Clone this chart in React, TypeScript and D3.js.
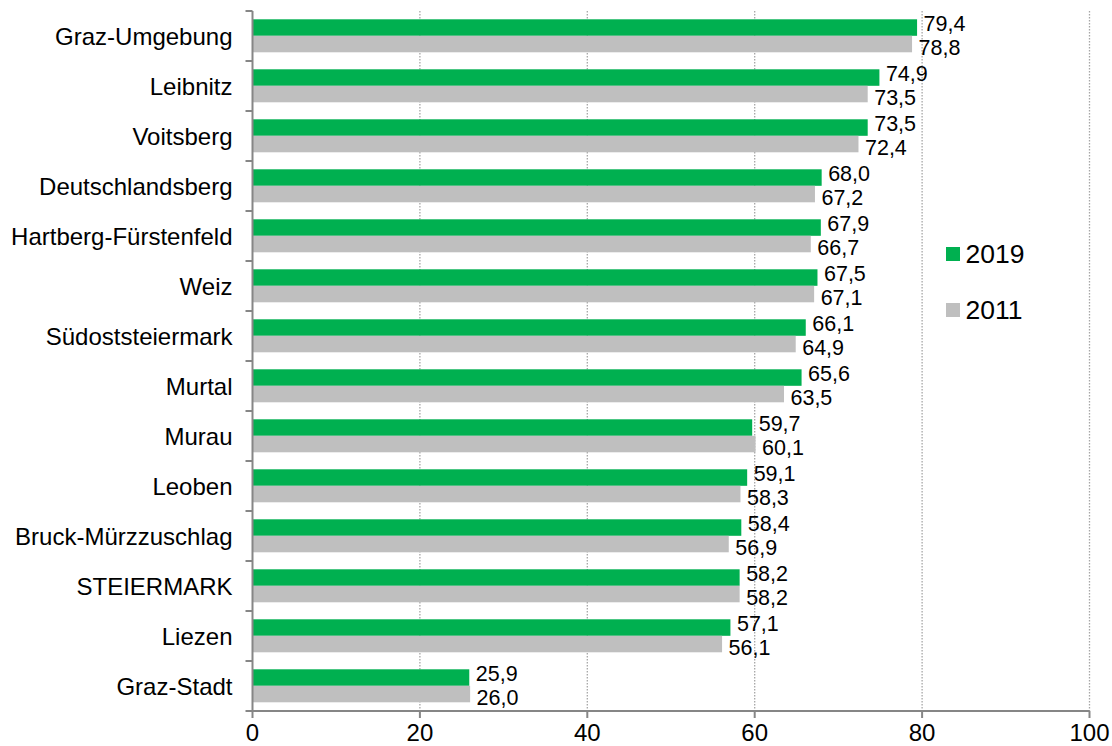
import React, { useEffect, useRef } from 'react';
import * as d3 from 'd3';

// Districts, top to bottom
const districts = [
  'Graz-Umgebung', 'Leibnitz', 'Voitsberg', 'Deutschlandsberg', 'Hartberg-Fürstenfeld',
  'Weiz', 'Südoststeiermark', 'Murtal', 'Murau', 'Leoben', 'Bruck-Mürzzuschlag',
  'STEIERMARK', 'Liezen', 'Graz-Stadt',
];
const values2019 = [79.4, 74.9, 73.5, 68.0, 67.9, 67.5, 66.1, 65.6, 59.7, 59.1, 58.4, 58.2, 57.1, 25.9];
const values2011 = [78.8, 73.5, 72.4, 67.2, 66.7, 67.1, 64.9, 63.5, 60.1, 58.3, 56.9, 58.2, 56.1, 26.0];
const seriesNames = ['2019', '2011'];
const seriesColors = ['#00B050', '#BFBFBF'];
const xTicks = [0, 20, 40, 60, 80, 100];

const App: React.FC = () => {
  const ref = useRef<SVGSVGElement>(null);

  useEffect(() => {
    const svg = d3.select(ref.current);
    svg.selectAll('*').remove();

    const width = 1112;
    const height = 746;
    const marginTop = 11;
    const marginBottom = 35;
    const marginLeft = 252.5;
    const marginRight = 22.5;
    const font = 'Liberation Sans, Arial, sans-serif';

    const x = d3.scaleLinear()
      .domain([0, 100])
      .range([marginLeft, width - marginRight]);

    const y = d3.scaleBand()
      .domain(districts)
      .range([marginTop, height - marginBottom]);

    // two bars inside each band, with empty space above and below
    const inner = d3.scaleBand()
      .domain(seriesNames)
      .range([8.3, y.bandwidth() - 8.7]);

    const color = d3.scaleOrdinal<string>().domain(seriesNames).range(seriesColors);

    const rows = districts.map((name, i) => ({ name, values: [values2019[i], values2011[i]] }));

    // dotted vertical grid
    svg.append('g')
      .selectAll('line')
      .data(xTicks.filter(d => d > 0))
      .join('line')
      .attr('x1', d => x(d))
      .attr('x2', d => x(d))
      .attr('y1', marginTop)
      .attr('y2', height - marginBottom)
      .attr('stroke', '#A6A6A6')
      .attr('stroke-width', 1.3)
      .attr('stroke-dasharray', '1.5,1.5');

    // bars
    const group = svg.append('g')
      .selectAll('g')
      .data(rows)
      .join('g')
      .attr('transform', d => `translate(0,${y(d.name)})`);

    group.selectAll('rect')
      .data(d => d.values.map((v, i) => ({ key: seriesNames[i], v })))
      .join('rect')
      .attr('x', x(0))
      .attr('y', d => inner(d.key)!)
      .attr('width', d => x(d.v) - x(0))
      .attr('height', inner.bandwidth())
      .attr('fill', d => color(d.key));

    // value labels (German decimal comma)
    group.selectAll('text')
      .data(d => d.values.map((v, i) => ({ key: seriesNames[i], v })))
      .join('text')
      .attr('x', d => x(d.v) + 6.5)
      .attr('y', (d, i) => inner(d.key)! + inner.bandwidth() / 2 + (i === 0 ? 3.7 : 11.3))
      .attr('font-family', font)
      .attr('font-size', 21.5)
      .attr('fill', '#000')
      .text(d => d.v.toFixed(1).replace('.', ','));

    // y axis
    const yAxis = svg.append('g');
    yAxis.append('line')
      .attr('x1', marginLeft).attr('x2', marginLeft)
      .attr('y1', marginTop).attr('y2', height - marginBottom)
      .attr('stroke', '#868686').attr('stroke-width', 2);
    yAxis.selectAll('line.tick')
      .data(d3.range(districts.length + 1))
      .join('line')
      .attr('class', 'tick')
      .attr('x1', marginLeft - 7).attr('x2', marginLeft)
      .attr('y1', i => marginTop + i * y.step())
      .attr('y2', i => marginTop + i * y.step())
      .attr('stroke', '#868686').attr('stroke-width', 2);
    yAxis.selectAll('text')
      .data(districts)
      .join('text')
      .attr('x', 232.5)
      .attr('y', d => y(d)! + y.bandwidth() / 2 + 8.5)
      .attr('text-anchor', 'end')
      .attr('font-family', font)
      .attr('font-size', 24)
      .attr('fill', '#000')
      .text(d => d);

    // x axis
    const xAxis = svg.append('g');
    xAxis.append('line')
      .attr('x1', marginLeft).attr('x2', width - marginRight)
      .attr('y1', height - marginBottom).attr('y2', height - marginBottom)
      .attr('stroke', '#868686').attr('stroke-width', 2);
    xAxis.selectAll('line.tick')
      .data(xTicks)
      .join('line')
      .attr('class', 'tick')
      .attr('x1', d => x(d)).attr('x2', d => x(d))
      .attr('y1', height - marginBottom).attr('y2', height - marginBottom + 7)
      .attr('stroke', '#868686').attr('stroke-width', 2);
    xAxis.selectAll('text')
      .data(xTicks)
      .join('text')
      .attr('x', d => x(d))
      .attr('y', height - 5.5)
      .attr('text-anchor', 'middle')
      .attr('font-family', font)
      .attr('font-size', 24)
      .attr('fill', '#000')
      .text(d => d);

    // legend
    const legend = svg.append('g')
      .selectAll('g')
      .data(seriesNames)
      .join('g')
      .attr('transform', (d, i) => `translate(946,${247 + i * 56})`);
    legend.append('rect')
      .attr('width', 14)
      .attr('height', 14)
      .attr('fill', d => color(d));
    legend.append('text')
      .attr('x', 19.5)
      .attr('y', 15.8)
      .attr('font-family', font)
      .attr('font-size', 26.5)
      .attr('fill', '#000')
      .text(d => d);
  }, []);

  return (
    <svg ref={ref} width={1112} height={746}
      style={{ position: 'absolute', left: 0, top: 0, background: '#fff' }} />
  );
};

export default App;
